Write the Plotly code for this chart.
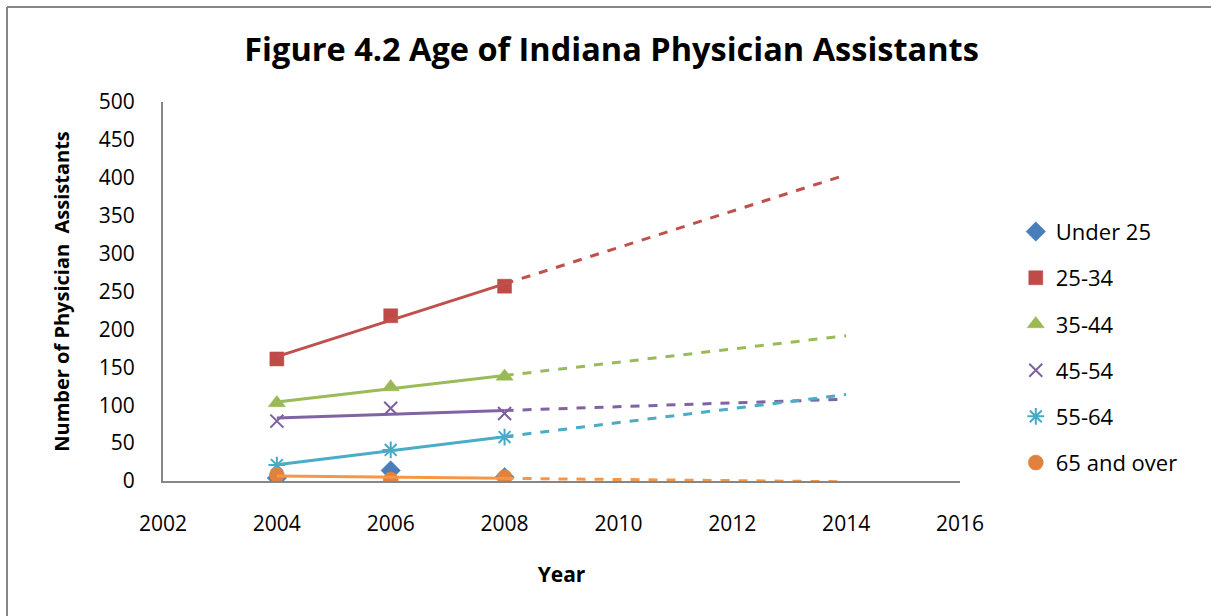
import numpy as np
import plotly.graph_objects as go

years = [2004, 2006, 2008]
series_names = ["Under 25", "25-34", "35-44", "45-54", "55-64", "65 and over"]
under_25 = [4, 14, 5]
age_25_34 = [161, 218, 257]
age_35_44 = [103, 124, 138]
age_45_54 = [79, 96, 89]
age_55_64 = [21, 41, 58]
age_65_over = [8, 2, 5]
forecast_end = 2014
x_ticks = [2002, 2004, 2006, 2008, 2010, 2012, 2014, 2016]
y_ticks = [0, 50, 100, 150, 200, 250, 300, 350, 400, 450, 500]

values = [under_25, age_25_34, age_35_44, age_45_54, age_55_64, age_65_over]
marker_colors = ["#4A7EBB", "#BE4B48", "#98B954", "#7D60A0", "#46AAC5", "#E0823D"]
line_colors = ["#4F81BD", "#C0504D", "#9BBB59", "#8064A2", "#4BACC6", "#F79646"]
symbols = ["diamond", "square", "triangle-up", "x-thin-open", "asterisk-open", "circle"]
sizes = [15, 14, 15, 13, 14, 15]
has_trend = [False, True, True, True, True, True]

FONT = "Open Sans"
fig = go.Figure()

for i, name in enumerate(series_names):
    open_sym = symbols[i].endswith("open")
    fig.add_trace(go.Scatter(
        x=years, y=values[i], name=name, mode="markers",
        legendgroup=name,
        marker=dict(symbol=symbols[i], size=sizes[i], color=marker_colors[i],
                    line=dict(color=marker_colors[i], width=2 if open_sym else 0.5)),
    ))

for i, name in enumerate(series_names):
    if not has_trend[i]:
        continue
    slope, intercept = np.polyfit(years, values[i], 1)
    xs_solid = [years[0], years[-1]]
    xs_dash = [years[-1], forecast_end]
    fig.add_trace(go.Scatter(
        x=xs_solid, y=[slope * v + intercept for v in xs_solid], mode="lines",
        showlegend=False, hoverinfo="skip", legendgroup=name,
        line=dict(color=line_colors[i], width=3),
    ))
    fig.add_trace(go.Scatter(
        x=xs_dash, y=[slope * v + intercept for v in xs_dash], mode="lines",
        showlegend=False, hoverinfo="skip", legendgroup=name,
        line=dict(color=line_colors[i], width=3, dash="dash"),
    ))

axis_color = "#868686"
fig.update_layout(
    width=1211, height=616,
    margin=dict(l=163, r=251, t=102, b=135),
    paper_bgcolor="white", plot_bgcolor="white",
    font=dict(family=FONT, size=21, color="black"),
    title=dict(text="<b>Figure 4.2 Age of Indiana Physician Assistants</b>",
               x=0.505, xref="container", xanchor="center",
               y=1 - 50 / 616, yref="container", yanchor="middle",
               font=dict(family=FONT, size=32.5, color="black")),
    xaxis=dict(range=[2002, 2016], tickvals=x_ticks, showgrid=False, zeroline=False,
               showline=True, linecolor=axis_color, linewidth=2, ticks="",
               ticklabelstandoff=23, tickfont=dict(size=21),
               title=dict(text="<b>Year</b>", font=dict(size=21), standoff=31)),
    yaxis=dict(range=[0, 500], tickvals=y_ticks, showgrid=False, zeroline=False,
               showline=True, linecolor=axis_color, linewidth=2, ticks="",
               ticklabelstandoff=22, tickfont=dict(size=21),
               title=dict(text="<b>Number of Physician  Assistants</b>", font=dict(size=20), standoff=24)),
    legend=dict(x=1.07, xanchor="left", y=0.713, yanchor="top",
                traceorder="grouped", tracegroupgap=14.6,
                font=dict(family=FONT, size=22), bgcolor="rgba(0,0,0,0)"),
    showlegend=True,
)

# chart-area frame (left and top edges visible in the reference)
left_x = (7 - 163) / 797
top_y = (481 - 7) / 379
fig.add_shape(type="line", xref="paper", yref="paper",
              x0=left_x, x1=left_x, y0=(481 - 700) / 379, y1=top_y,
              line=dict(color=axis_color, width=2), layer="below")
fig.add_shape(type="line", xref="paper", yref="paper",
              x0=left_x, x1=(1300 - 163) / 797, y0=top_y, y1=top_y,
              line=dict(color=axis_color, width=2), layer="below")

fig.write_html("out.html", config={"displayModeBar": False},
               post_script="document.body.style.margin='0';document.body.style.overflow='hidden';")
